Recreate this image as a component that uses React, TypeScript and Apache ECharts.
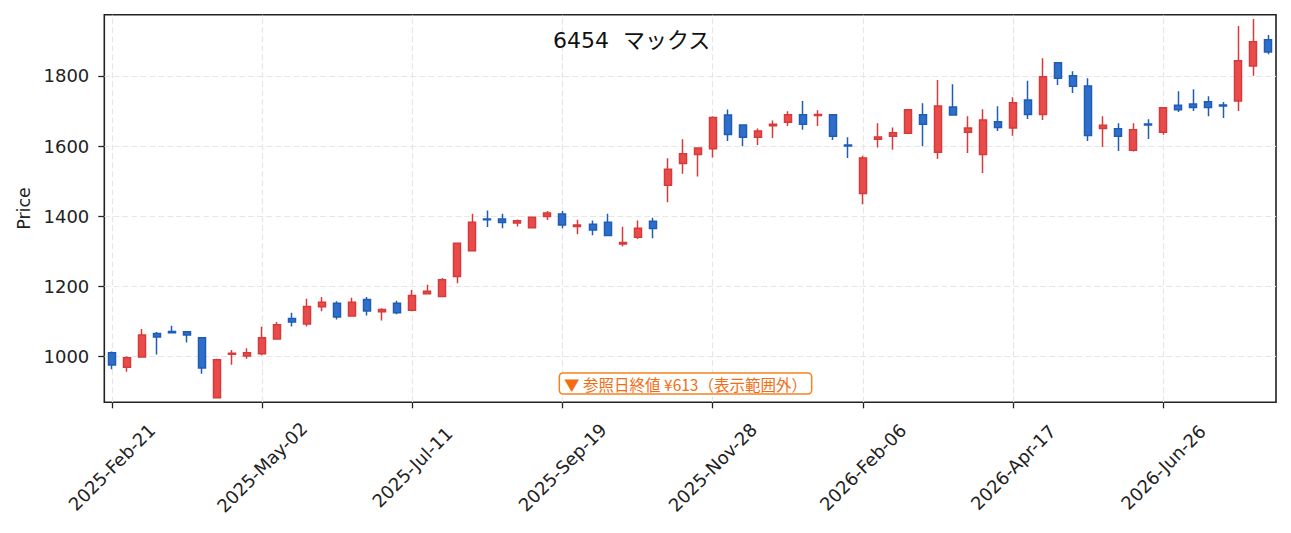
import React, { useEffect, useRef } from "react";
import * as echarts from "echarts";

const dates = [
  "2025-Feb-21", "2025-Feb-28", "2025-Mar-07", "2025-Mar-14", "2025-Mar-21", "2025-Mar-28",
  "2025-Apr-04", "2025-Apr-11", "2025-Apr-18", "2025-Apr-25", "2025-May-02", "2025-May-09",
  "2025-May-16", "2025-May-23", "2025-May-30", "2025-Jun-06", "2025-Jun-13", "2025-Jun-20",
  "2025-Jun-27", "2025-Jul-04", "2025-Jul-11", "2025-Jul-18", "2025-Jul-25", "2025-Aug-01",
  "2025-Aug-08", "2025-Aug-15", "2025-Aug-22", "2025-Aug-29", "2025-Sep-05", "2025-Sep-12",
  "2025-Sep-19", "2025-Sep-26", "2025-Oct-03", "2025-Oct-10", "2025-Oct-17", "2025-Oct-24",
  "2025-Oct-31", "2025-Nov-07", "2025-Nov-14", "2025-Nov-21", "2025-Nov-28", "2025-Dec-05",
  "2025-Dec-12", "2025-Dec-19", "2025-Dec-26", "2026-Jan-02", "2026-Jan-09", "2026-Jan-16",
  "2026-Jan-23", "2026-Jan-30", "2026-Feb-06", "2026-Feb-13", "2026-Feb-20", "2026-Feb-27",
  "2026-Mar-06", "2026-Mar-13", "2026-Mar-20", "2026-Mar-27", "2026-Apr-03", "2026-Apr-10",
  "2026-Apr-17", "2026-Apr-24", "2026-May-01", "2026-May-08", "2026-May-15", "2026-May-22",
  "2026-May-29", "2026-Jun-05", "2026-Jun-12", "2026-Jun-19", "2026-Jun-26", "2026-Jul-03",
  "2026-Jul-10", "2026-Jul-17", "2026-Jul-24", "2026-Jul-31", "2026-Aug-07", "2026-Aug-14",
];

const opens = [
  1011, 970, 999, 1066, 1072, 1071, 1054, 883, 1007, 1002,
  1008, 1050, 1109, 1093, 1142, 1152, 1116, 1163, 1128, 1152,
  1132, 1179, 1171, 1228, 1302, 1392, 1392, 1381, 1367, 1399,
  1406, 1371, 1377, 1383, 1321, 1340, 1386, 1488, 1550, 1576,
  1592, 1688, 1660, 1625, 1658, 1668, 1689, 1687, 1689, 1603,
  1465, 1619, 1628, 1636, 1689, 1582, 1711, 1639, 1576, 1669,
  1651, 1731, 1690, 1837, 1800, 1771, 1650, 1649, 1588, 1663,
  1639, 1716, 1720, 1726, 1717, 1728, 1828, 1903,
];

const closes = [
  976, 997, 1062, 1056, 1068, 1062, 968, 991, 1010, 1011,
  1054, 1091, 1099, 1143, 1155, 1113, 1155, 1130, 1134, 1125,
  1174, 1186, 1219, 1323, 1383, 1390, 1382, 1387, 1397, 1409,
  1375, 1375, 1361, 1345, 1325, 1366, 1365, 1534, 1578, 1594,
  1681, 1633, 1625, 1643, 1662, 1689, 1662, 1690, 1628, 1600,
  1566, 1626, 1638, 1703, 1662, 1714, 1688, 1651, 1674, 1653,
  1723, 1690, 1797, 1793, 1770, 1630, 1659, 1628, 1646, 1660,
  1709, 1703, 1710, 1710, 1714, 1843, 1897, 1868,
];

const lows = [
  964, 957, 998, 1006, 1067, 1040, 951, 881, 977, 994,
  1004, 1050, 1086, 1086, 1129, 1106, 1116, 1117, 1103, 1121,
  1129, 1178, 1170, 1209, 1301, 1369, 1366, 1371, 1366, 1389,
  1366, 1349, 1346, 1345, 1314, 1335, 1337, 1440, 1521, 1513,
  1567, 1614, 1599, 1603, 1623, 1657, 1646, 1657, 1617, 1566,
  1434, 1596, 1589, 1635, 1599, 1563, 1687, 1580, 1523, 1643,
  1629, 1677, 1674, 1774, 1751, 1614, 1597, 1586, 1584, 1620,
  1632, 1697, 1700, 1685, 1680, 1700, 1800, 1861,
];

const highs = [
  1015, 1001, 1079, 1070, 1088, 1072, 1055, 994, 1019, 1024,
  1085, 1099, 1125, 1165, 1170, 1158, 1168, 1170, 1138, 1159,
  1190, 1205, 1224, 1324, 1407, 1416, 1407, 1391, 1398, 1415,
  1415, 1390, 1388, 1407, 1370, 1388, 1396, 1565, 1619, 1595,
  1685, 1704, 1661, 1650, 1673, 1699, 1728, 1702, 1690, 1625,
  1572, 1665, 1653, 1704, 1722, 1788, 1776, 1685, 1705, 1713,
  1739, 1786, 1850, 1838, 1813, 1793, 1685, 1665, 1665, 1676,
  1710, 1756, 1762, 1742, 1725, 1942, 1962, 1916,
];

const yTicks = [1000, 1200, 1400, 1600, 1800];
const xTickIdx = [0, 10, 20, 30, 40, 50, 60, 70];
const yMin = 870;
const yMax = 1974;
const titleText = "6454  マックス";
const noteText = "▼ 参照日終値 ¥613（表示範囲外）";
const yName = "Price";

export default function App() {
  const ref = useRef<HTMLDivElement>(null);
  useEffect(() => {
    if (!ref.current) return;
    const chart = echarts.init(ref.current, null, { renderer: "svg" });
    const font = "'DejaVu Sans', 'Noto Sans CJK JP', sans-serif";
    const candle = dates.map((_, i) => [opens[i], closes[i], lows[i], highs[i]]);
    const gridStyle = { color: "#e6e6e6", type: [6, 3], width: 1.2 };
    chart.setOption({
      animation: false,
      backgroundColor: "#ffffff",
      grid: {
        left: 104.3,
        top: 14.7,
        right: 15,
        bottom: 130.7,
        containLabel: false,
        outerBoundsMode: "none",
        show: true,
        borderColor: "#222222",
        borderWidth: 1.6,
        backgroundColor: "transparent",
      },
      xAxis: {
        type: "category",
        data: dates,
        boundaryGap: true,
        axisLine: { show: false },
        axisTick: {
          show: true,
          alignWithLabel: true,
          interval: 9,
          length: 6,
          lineStyle: { color: "#222222", width: 1.3 },
        },
        axisLabel: {
          interval: 9,
          rotate: 45,
          align: "center",
          verticalAlign: "middle",
          margin: 65,
          fontSize: 18,
          color: "#222222",
          fontFamily: font,
        },
        splitLine: { show: false },
      },
      yAxis: {
        type: "value",
        min: yMin,
        max: yMax,
        name: yName,
        nameLocation: "middle",
        nameRotate: 90,
        nameGap: 64,
        nameTextStyle: { fontSize: 17.5, color: "#222222", fontFamily: font },
        axisLine: { show: false },
        axisTick: {
          show: true,
          length: 6,
          customValues: yTicks,
          lineStyle: { color: "#222222", width: 1.3 },
        },
        axisLabel: {
          customValues: yTicks,
          fontSize: 18,
          margin: 15,
          color: "#222222",
          fontFamily: font,
          formatter: (v: number) => String(v),
        },
        splitLine: { show: true, lineStyle: gridStyle },
      },
      series: [
        {
          type: "candlestick",
          data: candle,
          barWidth: 7.5,
          itemStyle: {
            color: "#e84c4a",
            color0: "#2f6fca",
            borderColor: "#d63a3a",
            borderColor0: "#1f5cb8",
            borderWidth: 1.5,
          },
          markLine: {
            silent: true,
            z: 1,
            symbol: ["none", "none"],
            label: { show: false },
            lineStyle: gridStyle,
            emphasis: { disabled: true },
            data: xTickIdx.map((i) => ({ xAxis: dates[i] })),
          },
        },
      ],
      graphic: [
        {
          type: "text",
          x: 553,
          y: 40,
          z: 100,
          style: {
            text: titleText,
            fontSize: 22,
            fontFamily: font,
            fill: "#111111",
            align: "left",
            verticalAlign: "middle",
          },
        },
        {
          type: "text",
          x: 685.5,
          y: 383.5,
          z: 100,
          style: {
            text: noteText,
            fontSize: 15.5,
            fontFamily: "'Noto Sans CJK JP', sans-serif",
            fill: "#f26d12",
            backgroundColor: "#ffffff",
            borderColor: "#f58220",
            borderWidth: 1.5,
            borderRadius: 3,
            padding: [2, 4],
            align: "center",
            verticalAlign: "middle",
          },
        },
      ],
    });
    return () => chart.dispose();
  }, []);
  return (
    <div
      ref={ref}
      style={{ position: "fixed", left: 0, top: 0, width: 1291, height: 533, background: "#fff" }}
    />
  );
}
